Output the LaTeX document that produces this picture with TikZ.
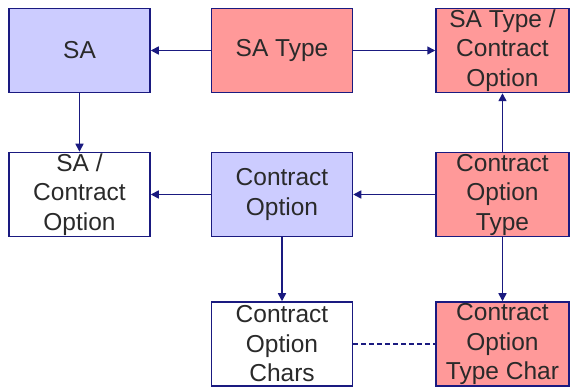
\documentclass[tikz,border=0pt]{standalone}
\usepackage{fontspec}
\setmainfont{Liberation Sans}
\usetikzlibrary{arrows.meta}
\definecolor{navy}{HTML}{1A1A80}
\definecolor{lav}{HTML}{CCCCFF}
\definecolor{salmon}{HTML}{FF9999}
\definecolor{txt}{HTML}{2A2A2A}
\tikzset{
  ent/.style={draw=navy, line width=1.5pt, minimum width=141pt, minimum height=84pt,
    inner sep=0pt, align=center, text=txt, font=\fontsize{24.5}{29.5}\selectfont},
  lavbox/.style={ent, fill=lav},
  salbox/.style={ent, fill=salmon},
  whitebox/.style={ent, fill=white},
  conn/.style={draw=navy, line width=1.6pt, -{Triangle[length=8pt,width=8pt]}},
  dconn/.style={draw=navy, line width=1.6pt, dash pattern=on 5pt off 3pt}
}
\begin{document}
\begin{tikzpicture}[x=1pt,y=1pt]
\useasboundingbox (0,0) rectangle (571,-387);
\node[lavbox] (sa) at (79.5,-50.5) {SA};
\node[salbox] (sat) at (282,-50.5) {SA Type};
\node[salbox, minimum width=133pt] (satco) at (502.5,-50.5) {SA Type /\\Contract\\Option};
\node[whitebox] (saco) at (79.5,-194.5) {SA /\\Contract\\Option};
\node[lavbox] (co) at (282,-194.5) {Contract\\Option};
\node[salbox, minimum width=133pt] (cot) at (502.5,-194.5) {Contract\\Option\\Type};
\node[whitebox] (coc) at (282,-344) {Contract\\Option\\Chars};
\node[salbox, minimum width=133pt] (cotc) at (502.5,-344) {Contract\\Option\\Type Char};
\draw[conn] (sat) -- (sa);
\draw[conn] (sat) -- (satco);
\draw[conn] (sa) -- (saco);
\draw[conn] (cot) -- (satco);
\draw[conn] (co) -- (saco);
\draw[conn] (cot) -- (co);
\draw[conn] (co) -- (coc);
\draw[conn] (cot) -- (cotc);
\draw[dconn] (coc) -- (cotc);
\end{tikzpicture}
\end{document}
